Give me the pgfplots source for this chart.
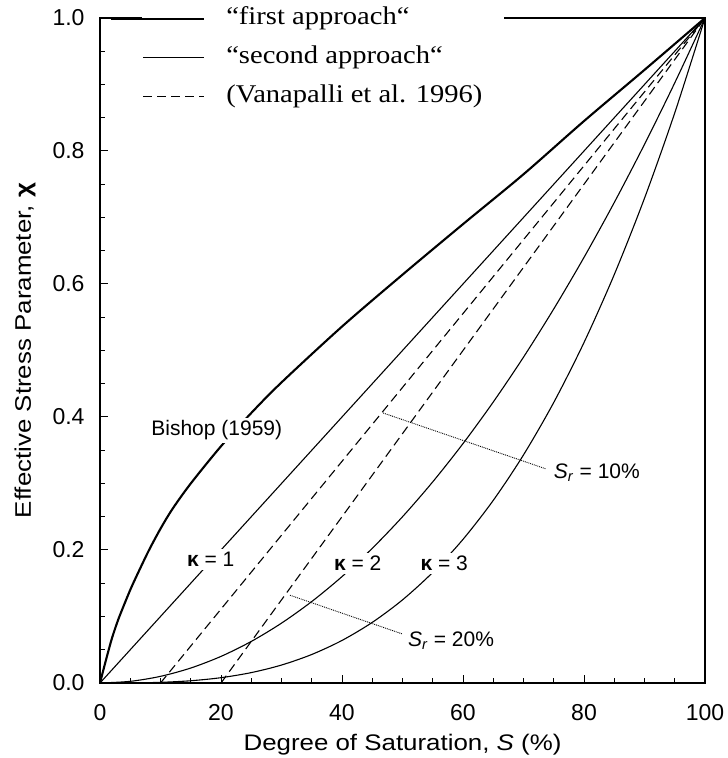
\documentclass[border=0pt]{standalone}
\usepackage{fontspec}
\setmainfont{Liberation Sans}
\newfontfamily\legfont[FakeStretch=1.12]{Liberation Serif}
\newfontfamily\lblfont[FakeStretch=1.15]{Liberation Sans}
\usepackage{pgfplots}
\pgfplotsset{compat=1.18}
\pgfplotsset{
  shortlegend/.style={legend image code/.code={\draw[##1] (0bp,0bp) -- (61bp,0bp);}},
  longlegend/.style={legend image code/.code={\draw[##1] (0bp,0bp) -- (61bp,0bp); \draw[##1, overlay] (-32bp,0bp) -- (0bp,0bp);}},
}
\begin{document}
\begin{tikzpicture}
\begin{axis}[
  name=ax,
  scale only axis,
  width=605bp, height=665bp,
  xmin=0, xmax=100, ymin=0, ymax=1,
  enlargelimits=false,
  xtick={0,20,40,60,80,100},
  ytick={0,0.2,0.4,0.6,0.8,1.0},
  minor tick num=3,
  tick pos=left,
  tick align=inside,
  major tick length=8bp,
  minor tick length=5bp,
  every tick/.style={black, line width=1bp},
  axis line style={line width=1.6bp},
  /pgf/number format/assume math mode=true,
  yticklabel style={/pgf/number format/.cd, fixed, fixed zerofill, precision=1, /tikz/.cd,
     font=\fontsize{23bp}{27bp}\selectfont, xshift=-12bp},
  xticklabel style={font=\fontsize{23bp}{27bp}\selectfont, yshift=-18bp},
  xlabel={Degree of Saturation, \textit{S} (\%)},
  ylabel={Effective Stress Parameter, \textbf{χ}},
  xlabel style={font=\lblfont\fontsize{22.5bp}{26bp}\selectfont, at={(axis description cs:0.5,-0.093)}, anchor=center},
  ylabel style={font=\lblfont\fontsize{22.5bp}{26bp}\selectfont, at={(axis description cs:-0.124,0.5)}, anchor=center},
  shortlegend,
  legend style={at={(axis cs:6.94,1.015)}, anchor=north west, fill=white, draw=none,
     inner sep=0pt, row sep=18bp,
     font=\legfont\fontsize{25.5bp}{29bp}\selectfont,
     nodes={inner sep=0pt, text height=16bp, text depth=5bp},
     /tikz/every odd column/.append style={column sep=21bp},
     cells={anchor=west}},
]
% Bishop (1959) -- "first approach"
\addplot[black, line width=2.1bp, smooth, tension=0.5, longlegend] coordinates {
(0,0) (1,0.035) (2,0.068) (3,0.095) (4,0.118) (5,0.140) (6,0.160) (8,0.198)
(10,0.232) (12,0.262) (15,0.300) (20,0.356) (25,0.406) (30,0.452) (40,0.536)
(50,0.614) (60,0.690) (70,0.765) (80,0.845) (90,0.922) (100,1.0)};
\addlegendentry{“first approach“}
% kappa = 1
\addplot[black, line width=1.1bp] coordinates {(0,0) (100,1)};
\addlegendentry{“second approach“}
% Vanapalli Sr = 10%
\addplot[black, line width=1.1bp, dash pattern=on 9bp off 5bp] coordinates {(10,0) (100,1)};
\addlegendentry{(Vanapalli et al. 1996)\rule{22bp}{0pt}}
% Vanapalli Sr = 20%
\addplot[forget plot, black, line width=1.1bp, dash pattern=on 9bp off 5bp] coordinates {(20,0) (100,1)};
% kappa = 2
\addplot[forget plot, black, line width=1.1bp, smooth] coordinates {
(0,0) (5,0.0025) (10,0.01) (15,0.0225) (20,0.04) (25,0.0625) (30,0.09) (35,0.1225)
(40,0.16) (45,0.2025) (50,0.25) (55,0.3025) (60,0.36) (65,0.4225) (70,0.49)
(75,0.5625) (80,0.64) (85,0.7225) (90,0.81) (95,0.9025) (100,1)};
% kappa = 3
\addplot[forget plot, black, line width=1.1bp, smooth] coordinates {
(0,0) (5,0.000125) (10,0.001) (15,0.003375) (20,0.008) (25,0.015625) (30,0.027)
(35,0.042875) (40,0.064) (45,0.091125) (50,0.125) (55,0.166375) (60,0.216)
(65,0.274625) (70,0.343) (75,0.421875) (80,0.512) (85,0.614125) (90,0.729)
(95,0.857375) (100,1)};
% leader lines
\addplot[forget plot, black, line width=0.9bp, densely dotted] coordinates {(46.8,0.406) (73.7,0.322)};
\addplot[forget plot, black, line width=0.9bp, densely dotted] coordinates {(31.4,0.132) (49.9,0.074)};
% labels
\node[fill=white, inner sep=3bp, font=\fontsize{21bp}{25bp}\selectfont] at (axis cs:19.3,0.380) {Bishop (1959)};
\node[fill=white, inner sep=3bp, font=\fontsize{21bp}{25bp}\selectfont] at (axis cs:18.3,0.186) {\textbf{κ} = 1};
\node[fill=white, inner sep=3bp, font=\fontsize{21bp}{25bp}\selectfont] at (axis cs:42.6,0.180) {\textbf{κ} = 2};
\node[fill=white, inner sep=3bp, font=\fontsize{21bp}{25bp}\selectfont] at (axis cs:56.9,0.180) {\textbf{κ} = 3};
\node[anchor=west, inner sep=0pt, font=\fontsize{21bp}{25bp}\selectfont] at (axis cs:75,0.316) {\textit{S}\textsubscript{\textit{r}} = 10\%};
\node[anchor=west, inner sep=0pt, font=\fontsize{21bp}{25bp}\selectfont] at (axis cs:50.9,0.063) {\textit{S}\textsubscript{\textit{r}} = 20\%};
\end{axis}
\pgfresetboundingbox
\path ([shift={(-100bp,-75bp)}]ax.south west) rectangle ([shift={(23bp,18bp)}]ax.north east);
\end{tikzpicture}
\end{document}
